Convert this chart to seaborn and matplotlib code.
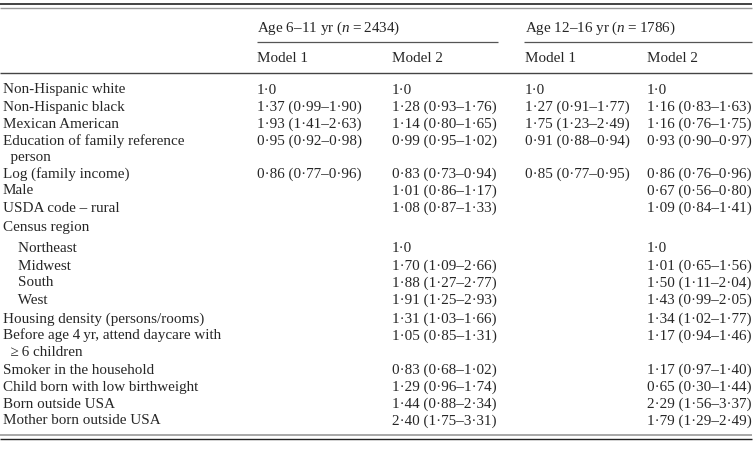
import matplotlib
matplotlib.use("Agg")
import matplotlib.pyplot as plt
import seaborn as sns

sns.set_style("white")
plt.rcParams['font.family'] = ['Liberation Serif', 'DejaVu Serif']
plt.rcParams['mathtext.fontset'] = 'custom'
plt.rcParams['mathtext.it'] = 'Liberation Serif:italic'
plt.rcParams['mathtext.rm'] = 'Liberation Serif'

group_headers = ["Age 6\u201311 yr ($n$\u2009=\u20092434)", "Age 12\u201316 yr ($n$\u2009=\u20091786)"]
model_headers = ["Model 1", "Model 2", "Model 1", "Model 2"]

row_labels = [
    "Non-Hispanic white", "Non-Hispanic black", "Mexican American",
    "Education of family reference", "  person", "Log (family income)", "Male",
    "USDA code \u2013 rural", "Census region", "    Northeast", "    Midwest",
    "    South", "    West", "Housing density (persons/rooms)",
    "Before age 4\u2009yr, attend daycare with", "  \u2265\u20096 children",
    "Smoker in the household", "Child born with low birthweight",
    "Born outside USA", "Mother born outside USA",
]
age611_model1 = ["1\u00b70", "1\u00b737 (0\u00b799\u20131\u00b790)", "1\u00b793 (1\u00b741\u20132\u00b763)",
                 "0\u00b795 (0\u00b792\u20130\u00b798)", "", "0\u00b786 (0\u00b777\u20130\u00b796)", "",
                 "", "", "", "", "", "", "", "", "", "", "", "", ""]
age611_model2 = ["1\u00b70", "1\u00b728 (0\u00b793\u20131\u00b776)", "1\u00b714 (0\u00b780\u20131\u00b765)",
                 "0\u00b799 (0\u00b795\u20131\u00b702)", "", "0\u00b783 (0\u00b773\u20130\u00b794)",
                 "1\u00b701 (0\u00b786\u20131\u00b717)", "1\u00b708 (0\u00b787\u20131\u00b733)", "",
                 "1\u00b70", "1\u00b770 (1\u00b709\u20132\u00b766)", "1\u00b788 (1\u00b727\u20132\u00b777)",
                 "1\u00b791 (1\u00b725\u20132\u00b793)", "1\u00b731 (1\u00b703\u20131\u00b766)",
                 "1\u00b705 (0\u00b785\u20131\u00b731)", "", "0\u00b783 (0\u00b768\u20131\u00b702)",
                 "1\u00b729 (0\u00b796\u20131\u00b774)", "1\u00b744 (0\u00b788\u20132\u00b734)",
                 "2\u00b740 (1\u00b775\u20133\u00b731)"]
age1216_model1 = ["1\u00b70", "1\u00b727 (0\u00b791\u20131\u00b777)", "1\u00b775 (1\u00b723\u20132\u00b749)",
                  "0\u00b791 (0\u00b788\u20130\u00b794)", "", "0\u00b785 (0\u00b777\u20130\u00b795)", "",
                  "", "", "", "", "", "", "", "", "", "", "", "", ""]
age1216_model2 = ["1\u00b70", "1\u00b716 (0\u00b783\u20131\u00b763)", "1\u00b716 (0\u00b776\u20131\u00b775)",
                  "0\u00b793 (0\u00b790\u20130\u00b797)", "", "0\u00b786 (0\u00b776\u20130\u00b796)",
                  "0\u00b767 (0\u00b756\u20130\u00b780)", "1\u00b709 (0\u00b784\u20131\u00b741)", "",
                  "1\u00b70", "1\u00b701 (0\u00b765\u20131\u00b756)", "1\u00b750 (1\u00b711\u20132\u00b704)",
                  "1\u00b743 (0\u00b799\u20132\u00b705)", "1\u00b734 (1\u00b702\u20131\u00b777)",
                  "1\u00b717 (0\u00b794\u20131\u00b746)", "", "1\u00b717 (0\u00b797\u20131\u00b740)",
                  "0\u00b765 (0\u00b730\u20131\u00b744)", "2\u00b729 (1\u00b756\u20133\u00b737)",
                  "1\u00b779 (1\u00b729\u20132\u00b749)"]

columns = [age611_model1, age611_model2, age1216_model1, age1216_model2]

W, H = 756, 449
fig = plt.figure(figsize=(W / 100, H / 100), dpi=100)
ax = fig.add_axes([0, 0, 1, 1])
ax.set_xlim(0, W)
ax.set_ylim(H, 0)
ax.axis("off")

fs = 10.9
base = 4.5  # baseline offset below row centre
col_x = [257, 392, 525, 647]
row_y = [89, 106, 123, 140, 156, 173, 190, 207, 226, 248, 265, 282, 299,
         318, 335, 352, 369, 386, 403, 420]

# rules
ax.hlines(3.5, 0, 752, color="#222222", lw=1.2)
ax.hlines(7.5, 0, 752, color="#999999", lw=1.0)
ax.hlines(42, 257, 498, color="#555555", lw=0.9)
ax.hlines(42, 524, 752, color="#555555", lw=0.9)
ax.hlines(73, 0, 752, color="#444444", lw=1.0)
ax.hlines(434.5, 0, 752, color="#999999", lw=1.2)
ax.hlines(438.5, 0, 752, color="#222222", lw=1.0)

ax.text(col_x[0], 27 + base, group_headers[0], fontsize=fs, va="baseline", ha="left")
ax.text(col_x[2], 27 + base, group_headers[1], fontsize=fs, va="baseline", ha="left")
for x, m in zip(col_x, model_headers):
    ax.text(x, 57 + base, m, fontsize=fs, va="baseline", ha="left")

for y, lab in zip(row_y, row_labels):
    ax.text(3, y + base, lab, fontsize=fs, va="baseline", ha="left")
for x, col in zip(col_x, columns):
    for y, v in zip(row_y, col):
        if v:
            ax.text(x, y + base, v, fontsize=fs, va="baseline", ha="left")

fig.savefig("out.png", dpi=100, facecolor="white")
